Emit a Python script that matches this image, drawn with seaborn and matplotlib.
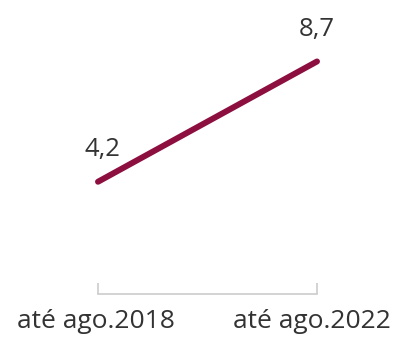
import matplotlib
matplotlib.use("Agg")
import matplotlib.pyplot as plt
import matplotlib.transforms as mtransforms
import seaborn as sns
import pandas as pd

categories = ["até ago.2018", "até ago.2022"]
values = [4.2, 8.7]
value_labels = ["4,2", "8,7"]

sns.set_style("white")
plt.rcParams['font.family'] = ['Open Sans', 'DejaVu Sans']

df = pd.DataFrame({"x": [0, 1], "y": values})

fig = plt.figure(figsize=(3.99, 3.43), dpi=100)
ax = fig.add_axes([0, 49/343, 1, 294/343])
sns.lineplot(data=df, x="x", y="y", ax=ax, color="#8C0F3F", linewidth=4.3,
             solid_capstyle="round")
ax.set_xlim(-98/219, 1 + 82/219)
ax.set_ylim(0, 11)
for i, (v, lab) in enumerate(zip(values, value_labels)):
    ax.annotate(lab, (i, v), xytext=(3 if i == 0 else 0, 23), textcoords="offset points",
                ha="center", va="center", fontsize=18.5, color="#333333")
for s in ["top", "left", "right"]:
    ax.spines[s].set_visible(False)
ax.spines["bottom"].set_bounds(0, 1)
ax.spines["bottom"].set_color("#cccccc")
ax.spines["bottom"].set_linewidth(1.2)
ax.set_xticks([0, 1])
ax.set_xticklabels(categories, fontsize=19, color="#333333")
ax.tick_params(axis="x", bottom=True, direction="in", length=8, width=1.2,
               color="#cccccc", pad=11)
shifts = [-2, -5]
for lbl, dx in zip(ax.get_xticklabels(), shifts):
    lbl.set_transform(lbl.get_transform() +
                      mtransforms.ScaledTranslation(dx / 100, 0, fig.dpi_scale_trans))
ax.set_yticks([])
ax.set_xlabel("")
ax.set_ylabel("")
fig.savefig("out.png", dpi=100)
